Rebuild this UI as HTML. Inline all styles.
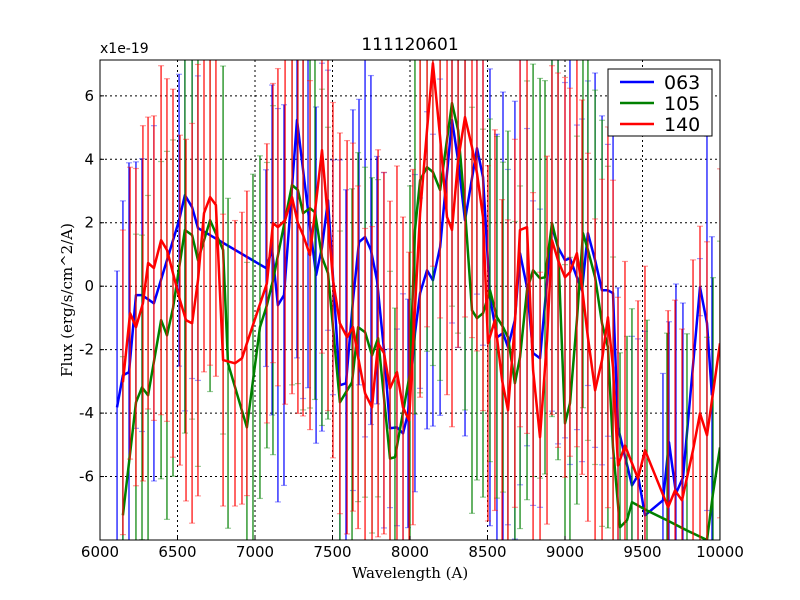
<!DOCTYPE html>
<html><head><meta charset="utf-8"><style>
html,body{margin:0;padding:0;background:#fff;width:800px;height:600px;overflow:hidden;}
svg{display:block;}
svg text{font-family:"DejaVu Sans","Liberation Sans",sans-serif;}
</style></head><body>
<svg id="chart" width="800" height="600" xmlns="http://www.w3.org/2000/svg">
<defs><clipPath id="pc"><rect x="100" y="60" width="620" height="480"/></clipPath></defs>
<rect x="0" y="0" width="800" height="600" fill="#fff"/>
<g id="grid"></g>
<g id="series" clip-path="url(#pc)"></g>
<rect x="100" y="60" width="620" height="480" fill="none" stroke="#000" stroke-width="1"/>
<g id="axes"></g>
<text x="410" y="50" font-size="17" text-anchor="middle">111120601</text>
<text x="100" y="53" font-size="14">x1e-19</text>
<text x="410" y="578" font-size="15" text-anchor="middle" style="font-family:'DejaVu Serif','Liberation Serif',serif">Wavelength (A)</text>
<text x="72" y="300" font-size="15" text-anchor="middle" transform="rotate(-90 72 300)" style="font-family:'DejaVu Serif','Liberation Serif',serif">Flux (erg/s/cm^2/A)</text>
<g>
<rect x="608" y="69" width="104" height="67" fill="#fff" stroke="#000" stroke-width="1"/>
<line x1="620" y1="82" x2="654" y2="82" stroke="#0000ff" stroke-width="2.5"/>
<text x="664" y="89" font-size="19">063</text>
<line x1="620" y1="103" x2="654" y2="103" stroke="#008000" stroke-width="2.5"/>
<text x="664" y="110" font-size="19">105</text>
<line x1="620" y1="124" x2="654" y2="124" stroke="#ff0000" stroke-width="2.5"/>
<text x="664" y="131" font-size="19">140</text>
</g>
</svg>
<script>
const xTicks=[6000,6500,7000,7500,8000,8500,9000,9500,10000];
const yTicks=[-6,-4,-2,0,2,4,6];
const blueX=[6110,6148,6187,6232,6271,6348,6510,6548,6594,6632,7071,7110,7148,7187,7271,7310,7342,7394,7432,7471,7503,7548,7587,7632,7671,7710,7748,7787,7832,7871,7916,7955,7987,8032,8065,8110,8148,8194,8271,8310,8355,8432,8471,8516,8561,8600,8632,8677,8710,8755,8794,8839,8916,8955,9000,9032,9077,9110,9148,9194,9239,9277,9310,9342,9432,9471,9516,9632,9671,9716,9761,9871,9916,9948];
const blueY=[-3.82,-2.81,-2.71,-0.28,-0.28,-0.54,2.08,2.87,2.49,1.83,0.57,1.14,-0.60,-0.28,5.24,3.66,2.40,0.35,1.23,2.71,0.28,-3.12,-3.06,-0.44,1.39,1.55,1.14,0.19,-2.02,-4.48,-4.45,-4.64,-4.01,-1.48,-0.22,0.50,0.19,1.23,5.24,3.97,2.08,4.35,3.44,-0.35,-1.61,-1.48,-1.92,-1.07,1.04,-0.03,-2.11,-2.27,1.86,1.23,0.82,0.88,0.28,-0.13,1.67,0.82,-0.13,-0.13,-0.22,-4.45,-6.28,-5.96,-7.22,-6.75,-4.92,-6.53,-6.03,-0.03,-1.17,-3.44];
const blueErr=[4.3,5.5,6.6,4.2,4.3,5.6,4.6,6.8,5.4,4.8,3.1,5.2,6.2,6.0,7.5,7.2,5.6,5.3,5.8,4.1,3.7,7.1,6.1,6.0,4.5,6.3,5.5,3.9,5.6,2.5,3.1,4.4,3.6,5.0,3.0,5.0,4.6,5.3,6.4,5.9,6.8,4.6,5.3,7.2,6.4,7.6,5.6,6.9,7.3,5.0,4.8,4.7,5.8,6.2,5.6,6.5,4.8,5.4,4.8,5.9,5.5,4.6,5.2,4.4,4.7,4.3,5.8,4.0,3.8,6.6,5.5,0.9,5.9,5.0];
const greenX=[6148,6232,6271,6310,6394,6432,6471,6548,6594,6632,6710,6794,6826,6948,6987,7032,7077,7116,7239,7277,7310,7355,7387,7432,7471,7548,7626,7665,7710,7755,7794,7871,7903,8000,8032,8065,8110,8148,8194,8271,8310,8355,8400,8432,8471,8516,8561,8600,8632,8677,8710,8755,8794,8839,8871,8916,8955,9000,9032,9077,9116,9148,9194,9239,9277,9310,9355,9400,9432,9529,9658,9787,9916,9955,10000];
const greenY=[-7.22,-3.66,-3.19,-3.44,-1.07,-1.55,-0.69,1.77,1.61,0.82,2.08,1.14,-2.43,-4.45,-2.97,-1.29,-0.60,0.19,3.19,3.03,2.30,2.46,2.33,0.91,0.41,-3.66,-3.03,-1.29,-1.45,-2.18,-1.64,-5.43,-5.39,-2.74,1.77,3.34,3.75,3.60,3.03,5.77,4.92,2.40,-0.76,-1.01,-0.85,-0.13,-0.98,-1.29,-1.61,-3.06,-2.24,-0.13,0.50,0.25,0.28,1.99,1.23,-4.32,-3.69,-1.07,1.67,1.14,0.28,-1.17,-1.92,-5.08,-7.60,-7.38,-6.81,-7.07,-7.38,-7.70,-8.01,-6.53,-5.08];
const greenErr=[5.0,5.3,4.8,6.3,5.0,5.8,5.3,6.4,5.8,6.5,5.4,5.8,5.2,5.2,6.5,5.4,4.5,5.5,6.3,6.1,6.2,6.3,5.9,5.3,4.6,5.4,6.1,5.5,5.2,5.6,5.0,5.9,4.7,5.9,5.8,6.7,5.8,6.1,6.0,6.4,6.4,6.3,6.4,5.1,5.8,5.4,5.7,5.2,6.5,5.1,5.4,6.6,6.5,6.3,6.2,6.1,6.7,5.0,4.6,5.8,5.5,6.0,5.9,6.4,5.7,6.0,5.5,5.8,6.1,6.0,5.9,6.2,6.4,6.8,6.5];
const redX=[6148,6194,6232,6277,6310,6348,6394,6432,6471,6516,6555,6594,6632,6671,6710,6748,6794,6871,6916,6948,7077,7116,7148,7194,7239,7277,7310,7355,7432,7471,7503,7548,7594,7632,7665,7710,7755,7794,7832,7871,7916,7955,7994,8019,8065,8110,8148,8194,8239,8271,8310,8355,8400,8432,8471,8503,8548,8594,8632,8677,8710,8755,8794,8839,8884,8916,8955,9000,9032,9077,9110,9148,9194,9239,9277,9310,9342,9387,9471,9516,9665,9710,9755,9826,9871,9916,10000];
const redY=[-3.03,-0.85,-1.29,-0.54,0.73,0.57,1.45,1.14,0.41,-0.44,-1.07,-1.17,0.19,2.30,2.81,2.56,-2.33,-2.43,-2.27,-1.80,0.09,1.99,1.86,2.08,2.81,1.99,1.61,0.98,4.29,2.08,0.19,-1.17,-1.61,-1.29,-2.24,-3.38,-3.82,-1.80,-2.11,-3.22,-2.71,-3.82,-4.23,-1.92,2.30,4.92,7.03,4.70,2.18,1.77,3.97,5.33,4.38,3.56,2.18,-1.80,-1.07,-2.97,-3.91,-1.17,1.77,1.86,-2.65,-4.76,-1.70,1.45,0.82,0.28,0.44,1.04,-0.03,-1.61,-3.28,-2.33,-0.98,-2.56,-5.65,-5.02,-6.06,-5.17,-6.97,-6.44,-6.75,-5.17,-4.01,-4.70,-1.80];
const redErr=[4.8,4.6,5.0,5.6,4.6,4.8,5.5,5.4,5.8,5.2,5.7,6.3,6.8,5.0,5.3,5.4,4.6,4.5,4.6,4.8,4.4,4.4,5.0,5.8,6.2,6.0,5.7,5.5,6.4,6.0,5.6,6.0,6.2,5.8,5.4,5.2,5.7,6.1,5.7,5.9,6.5,6.0,5.3,5.6,5.8,6.2,6.4,5.7,5.6,6.2,5.9,6.3,6.0,5.6,6.1,5.6,6.0,5.7,6.0,5.8,6.2,6.5,5.6,5.2,5.8,5.5,5.9,6.3,5.8,6.1,5.9,5.8,5.4,5.7,6.0,5.9,5.3,5.8,5.6,5.8,6.2,6.0,5.4,6.0,5.9,6.1,5.5];

const NS='http://www.w3.org/2000/svg';
const X0=100,X1=720,Y0=540,Y1=60,XMIN=6000,XMAX=10000,YMIN=-8,YMAX=7.13;
function xs(v){return X0+(v-XMIN)/(XMAX-XMIN)*(X1-X0);}
function ys(v){return Y0-(v-YMIN)/(YMAX-YMIN)*(Y0-Y1);}
function clampY(p){return Math.max(Y1,Math.min(Y0,p));}
function mk(tag,attrs,parent){const e=document.createElementNS(NS,tag);for(const k in attrs)e.setAttribute(k,attrs[k]);parent.appendChild(e);return e;}
const grid=document.getElementById('grid'),axes=document.getElementById('axes'),ser=document.getElementById('series');
xTicks.forEach(t=>{
  const x=xs(t);
  const g=mk('line',{x1:x,x2:x,y1:Y1,y2:Y0,stroke:'#000','stroke-dasharray':'2,3','stroke-width':1},grid);
  
  
  const tk=mk('line',{x1:x,x2:x,y1:Y0,y2:Y0-4,stroke:'#000'},axes);
  
  
  const tl=mk('text',{x:x,y:Y0+17,'font-size':15,'text-anchor':'middle'},axes);
  tl.textContent=t;
  
  
});
yTicks.forEach(t=>{
  const y=ys(t);
  const g=mk('line',{x1:X0,x2:X1,y1:y,y2:y,stroke:'#000','stroke-dasharray':'2,3','stroke-width':1},grid);
  
  
  const tk=mk('line',{x1:X0,x2:X0+4,y1:y,y2:y,stroke:'#000'},axes);
  
  
  const tl=mk('text',{x:X0-6,y:y+5,'font-size':15,'text-anchor':'end'},axes);
  tl.textContent=t;
  
  
});
function drawSeries(xa,ya,ea,color,name){
  const g=mk('g',{},ser);
  
  
  xa.forEach((xv,i)=>{
    const e=ea[i]??5, x=xs(xv);
    const hiR=ys(ya[i]+e), loR=ys(ya[i]-e);
    const hi=clampY(hiR), lo=clampY(loR);
    const l=mk('line',{x1:x,x2:x,y1:hi,y2:lo,stroke:color,'stroke-width':1.2},g);
    
    
    [hiR,loR].forEach(yy=>{
      if(yy<Y1||yy>Y0) return;
      const c=mk('line',{x1:x-3,x2:x+3,y1:yy,y2:yy,stroke:color,'stroke-width':1.2,opacity:0.4},g);
      
      
    });
  });
  const d=xa.map((xv,i)=>(i?'L':'M')+xs(xv).toFixed(1)+','+clampY(ys(ya[i])).toFixed(1)).join('');
  const p=mk('path',{d:d,fill:'none',stroke:color,'stroke-width':2.5,'stroke-linejoin':'round'},g);
  
  
}
drawSeries(blueX,blueY,blueErr,'#0000ff','063');
drawSeries(greenX,greenY,greenErr,'#008000','105');
drawSeries(redX,redY,redErr,'#ff0000','140');
</script>
</body></html>
